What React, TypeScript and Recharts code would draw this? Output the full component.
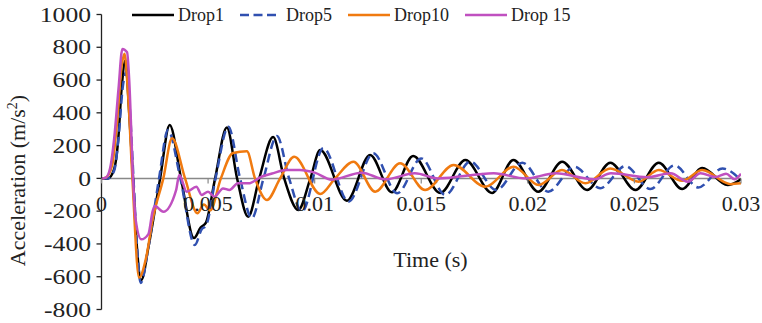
import { LineChart, Line, XAxis, YAxis, ReferenceLine, Legend } from "recharts";

// time (s) / acceleration (m/s^2)
const timeDrop1 = [0, 0.0003, 0.0006, 0.00078, 0.00095, 0.00112, 0.0013, 0.00148, 0.00165, 0.00187, 0.0022, 0.00275, 0.0032, 0.00373, 0.00434, 0.00465, 0.0049, 0.00533, 0.00588, 0.00636, 0.00688, 0.0074, 0.00805, 0.00857, 0.00923, 0.0098, 0.01026, 0.01151, 0.0126, 0.01362, 0.01462, 0.01589, 0.01707, 0.01832, 0.01932, 0.02049, 0.02161, 0.02278, 0.02387, 0.02505, 0.02614, 0.02724, 0.02818, 0.02937, 0.03];
const accDrop1 = [0, 0, 60, 230, 560, 720, 400, 0, -400, -620, -420, 0, 326, 0, -364, -300, -270, 0, 310, 0, -234, 0, 252, 0, -193, 0, 173, -136, 143, -85, 137, -89, 112, -89, 112, -81, 102, -71, 96, -71, 95, -65, 63, -40, -5];

const timeDrop5 = [0, 0.0003, 0.0006, 0.0008, 0.001, 0.00118, 0.00135, 0.0015, 0.00165, 0.00184, 0.0022, 0.0027, 0.00312, 0.0037, 0.00438, 0.0047, 0.0049, 0.00535, 0.00595, 0.0065, 0.00705, 0.0076, 0.00823, 0.0088, 0.0094, 0.01041, 0.01159, 0.01275, 0.01387, 0.015, 0.01613, 0.0173, 0.01852, 0.01974, 0.02096, 0.02218, 0.0234, 0.02458, 0.02575, 0.02688, 0.028, 0.02913, 0.03];
const accDrop5 = [0, 0, 50, 250, 560, 650, 380, 0, -380, -638, -420, 0, 295, 0, -406, -310, -290, 0, 315, 0, -243, 0, 258, 0, -203, 185, -142, 153, -91, 122, -101, 102, -71, 96, -81, 71, -60, 75, -65, 80, -55, 60, -10];

const timeDrop10 = [0, 0.0002, 0.0005, 0.0007, 0.00096, 0.00108, 0.00125, 0.00145, 0.00176, 0.0021, 0.0024, 0.0029, 0.00331, 0.00392, 0.0045, 0.0048, 0.0051, 0.0056, 0.00617, 0.00682, 0.0072, 0.00776, 0.00838, 0.00904, 0.01026, 0.01096, 0.01182, 0.01284, 0.01401, 0.01518, 0.01652, 0.018, 0.01933, 0.02051, 0.0216, 0.0227, 0.02387, 0.0252, 0.02614, 0.02724, 0.02818, 0.0295, 0.03];
const accDrop10 = [0, 5, 80, 300, 700, 760, 500, 0, -605, -480, -250, 0, 245, 0, -212, -160, -195, 0, 155, 165, 0, -132, 0, 132, -95, 0, 102, -81, 92, -71, 82, -51, 71, -40, 51, -30, 61, -20, 51, -15, 51, -35, -30];

const timeDrop15 = [0, 0.0002, 0.0004, 0.0006, 0.0008, 0.00098, 0.0012, 0.0013, 0.00148, 0.0016, 0.00187, 0.0022, 0.0024, 0.0025, 0.0029, 0.0035, 0.00365, 0.004, 0.00445, 0.0047, 0.005, 0.0053, 0.0057, 0.006, 0.0064, 0.0069, 0.0075, 0.008, 0.0087, 0.0093, 0.01, 0.0108, 0.0122, 0.0133, 0.0147, 0.0158, 0.0184, 0.0199, 0.0213, 0.0231, 0.0239, 0.0256, 0.0267, 0.0275, 0.0281, 0.0288, 0.0293, 0.0297, 0.03];
const accDrop15 = [0, 5, 60, 250, 550, 790, 770, 600, 0, -250, -372, -340, -200, -168, -203, -71, 21, -81, -51, -101, -81, -112, -61, -71, -30, -30, 10, 30, 51, 51, 35, -8, 35, -6, 31, 0, 31, 0, 31, -6, 31, 7, 31, -20, 31, 8, 28, -5, 28];

const xTicks = [0, 0.005, 0.01, 0.015, 0.02, 0.025, 0.03];
const yTicks = [-800, -600, -400, -200, 0, 200, 400, 600, 800, 1000];

const series = [
  { name: "Drop1", time: timeDrop1, acc: accDrop1, color: "#000000", dash: undefined },
  { name: "Drop5", time: timeDrop5, acc: accDrop5, color: "#3050b0", dash: "9 5" },
  { name: "Drop10", time: timeDrop10, acc: accDrop10, color: "#f07a10", dash: undefined },
  { name: "Drop 15", time: timeDrop15, acc: accDrop15, color: "#c050c0", dash: undefined },
];

const FONT = "'Liberation Serif', 'Times New Roman', serif";
const W = 762;
const H = 323;
const X_AXIS_H = 10;
const M = { top: 14.5, right: 21, bottom: 13.5 - X_AXIS_H, left: 11.5 };
const Y_AXIS_W = 90;
const PLOT_TOP = M.top;
const PLOT_H = H - M.top - M.bottom - X_AXIS_H;
const ZERO_Y = PLOT_TOP + (PLOT_H * 1000) / 1800;

const toPoints = (t: number[], v: number[]) => t.map((time, i) => ({ time, acc: v[i] }));

const XTick = (props: any) => {
  const { x, payload } = props;
  return (
    <g>
      <line x1={x} x2={x} y1={ZERO_Y} y2={ZERO_Y + 5} stroke="#888" strokeWidth={1.2} />
      <text x={x} y={ZERO_Y + 33} textAnchor="middle" fontSize={22} fontFamily={FONT} fill="#222">
        {String(payload.value)}
      </text>
    </g>
  );
};

const YTick = (props: any) => {
  const { x, y, payload } = props;
  return (
    <text
      transform={`translate(${x},${y}) scale(1.22,1)`}
      textAnchor="end"
      dominantBaseline="central"
      fontSize={21}
      fontFamily={FONT}
      fill="#222"
    >
      {payload.value}
    </text>
  );
};

const TimeTitle = () => (
  <text x={430.5} y={267} textAnchor="middle" fontSize={22} fontFamily={FONT} fill="#222">
    Time (s)
  </text>
);

const AccTitle = () => (
  <text transform="translate(25,180.5) rotate(-90)" textAnchor="middle" fontSize={22} fontFamily={FONT} fill="#222">
    Acceleration (m/s
    <tspan fontSize={14} dy={-8}>2</tspan>
    <tspan dy={8}>)</tspan>
  </text>
);

const renderLegend = () => (
  <div style={{ display: "flex", alignItems: "center", height: 30, paddingLeft: 132, fontFamily: FONT, fontSize: 18, color: "#222" }}>
    {series.map((s) => (
      <div key={s.name} style={{ display: "flex", alignItems: "center", marginRight: 16 }}>
        <svg width={42} height={6}>
          <line
            x1={0}
            x2={42}
            y1={3}
            y2={3}
            stroke={s.color}
            strokeWidth={2.5}
            strokeDasharray={s.dash ? "9 4.5 9 4.5 9 100" : undefined}
          />
        </svg>
        <span style={{ marginLeft: 4 }}>{s.name}</span>
      </div>
    ))}
  </div>
);

export default function App() {
  return (
    <div style={{ position: "absolute", left: 0, top: 0, width: W, height: H, background: "#fff" }}>
      <LineChart width={W} height={H} margin={M}>
        <ReferenceLine y={0} stroke="#888" strokeWidth={1.5} />
        <XAxis
          type="number"
          dataKey="time"
          domain={[0, 0.03]}
          ticks={xTicks}
          allowDataOverflow
          axisLine={false}
          tickLine={false}
          tick={<XTick />}
          height={X_AXIS_H}
          interval={0}
          label={<TimeTitle />}
        />
        <YAxis
          type="number"
          domain={[-800, 1000]}
          ticks={yTicks}
          width={Y_AXIS_W}
          interval={0}
          axisLine={{ stroke: "#222", strokeWidth: 1.3 }}
          tickLine={{ stroke: "#222", strokeWidth: 1.3 }}
          tickSize={5}
          tickMargin={5.5}
          tick={<YTick />}
          label={<AccTitle />}
        />
        <Legend content={renderLegend} verticalAlign="middle" align="center" layout="horizontal" wrapperStyle={{ top: 0, left: 0, width: W }} />
        {series.map((s) => (
          <Line
            key={s.name}
            name={s.name}
            data={toPoints(s.time, s.acc)}
            dataKey="acc"
            type="monotone"
            stroke={s.color}
            strokeWidth={2.5}
            strokeDasharray={s.dash}
            dot={false}
            activeDot={false}
            isAnimationActive={false}
          />
        ))}
      </LineChart>
    </div>
  );
}
